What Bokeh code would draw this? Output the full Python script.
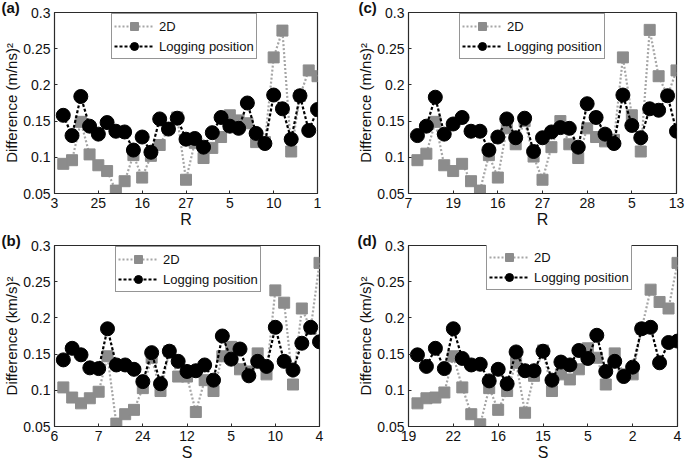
from bokeh.plotting import figure
from bokeh.layouts import row, column
from bokeh.models import FixedTicker, Legend, LegendItem, Range1d, Title
from bokeh.embed import file_html
from bokeh.resources import INLINE

# position index of each receiver/source along the line
idx = list(range(1, 31))

# (a) receivers, velocity difference (m/ns)^2
a_2d = [0.091, 0.096, 0.149, 0.104, 0.089, 0.081, 0.054, 0.067, 0.103, 0.072,
        0.102, 0.117, 0.140, 0.155, 0.069, 0.120, 0.099, 0.113, 0.128, 0.158,
        0.151, 0.147, 0.121, 0.121, 0.238, 0.275, 0.108, 0.185, 0.220, 0.212]
a_log = [0.158, 0.130, 0.184, 0.143, 0.132, 0.148, 0.136, 0.135, 0.110, 0.128,
         0.107, 0.153, 0.139, 0.154, 0.125, 0.126, 0.114, 0.134, 0.155, 0.143,
         0.140, 0.175, 0.133, 0.119, 0.186, 0.167, 0.125, 0.185, 0.137, 0.166]
a_ticks = ["3", "25", "16", "27", "5", "10", "1"]

# (c) receivers, second ordering
c_2d = [0.096, 0.105, 0.149, 0.089, 0.081, 0.091, 0.067, 0.054, 0.103, 0.072,
        0.140, 0.118, 0.150, 0.101, 0.069, 0.114, 0.150, 0.118, 0.099, 0.140,
        0.128, 0.122, 0.124, 0.238, 0.158, 0.108, 0.276, 0.212, 0.185, 0.220]
c_log = [0.130, 0.143, 0.183, 0.132, 0.146, 0.155, 0.136, 0.136, 0.110, 0.128,
         0.153, 0.127, 0.154, 0.108, 0.127, 0.135, 0.141, 0.140, 0.114, 0.174,
         0.155, 0.132, 0.119, 0.186, 0.144, 0.127, 0.167, 0.165, 0.185, 0.136]
c_ticks = ["7", "19", "16", "27", "28", "5", "13"]

# (b) sources, velocity difference (km/s)^2
b_2d = [0.104, 0.090, 0.082, 0.089, 0.098, 0.147, 0.054, 0.067, 0.073, 0.103,
        0.145, 0.099, 0.154, 0.119, 0.119, 0.070, 0.114, 0.099, 0.147, 0.160,
        0.129, 0.126, 0.151, 0.122, 0.238, 0.221, 0.108, 0.213, 0.185, 0.276]
b_log = [0.142, 0.158, 0.149, 0.131, 0.130, 0.185, 0.135, 0.135, 0.129, 0.112,
         0.152, 0.109, 0.154, 0.140, 0.126, 0.127, 0.135, 0.114, 0.175, 0.143,
         0.157, 0.120, 0.140, 0.133, 0.187, 0.140, 0.128, 0.165, 0.187, 0.167]
b_ticks = ["6", "7", "24", "12", "5", "10", "4"]

# (d) sources, second ordering
d_2d = [0.082, 0.089, 0.090, 0.097, 0.147, 0.104, 0.067, 0.053, 0.103, 0.073,
        0.099, 0.138, 0.069, 0.120, 0.155, 0.099, 0.122, 0.115, 0.129, 0.158,
        0.145, 0.108, 0.151, 0.122, 0.122, 0.185, 0.239, 0.222, 0.213, 0.276]
d_log = [0.149, 0.133, 0.158, 0.130, 0.185, 0.144, 0.135, 0.136, 0.113, 0.129,
         0.109, 0.153, 0.127, 0.127, 0.154, 0.114, 0.139, 0.135, 0.155, 0.144,
         0.176, 0.126, 0.140, 0.119, 0.132, 0.185, 0.187, 0.138, 0.166, 0.168]
d_ticks = ["19", "22", "16", "15", "5", "2", "4"]

x_tick_pos = [0, 5, 10, 15, 20, 25, 30]
y_tick_pos = [0.05, 0.1, 0.15, 0.2, 0.25, 0.3]
y_tick_txt = ["0.05", "0.1", "0.15", "0.2", "0.25", "0.3"]

FONT = "Liberation Sans"
AXIS_COLOR = "#2b2b2b"
GRAY = "#8c8c8c"
GRAY_LINE = "#a6a6a6"


def panel(tag, twod, logging, ticks, xlabel, ylabel, w, h, borders, leg_loc, tag_offset):
    left, right, top, bottom = borders
    p = figure(width=w, height=h, output_backend="svg", toolbar_location=None,
               x_range=Range1d(0, 30), y_range=Range1d(0.05, 0.3),
               min_border_left=left, min_border_right=right,
               min_border_top=top, min_border_bottom=bottom,
               background_fill_color="white", border_fill_color="white")
    p.grid.visible = False
    p.outline_line_color = AXIS_COLOR
    p.outline_line_width = 1.2

    for ax in (p.xaxis[0], p.yaxis[0]):
        ax.axis_line_color = AXIS_COLOR
        ax.major_tick_line_color = AXIS_COLOR
        ax.major_tick_in = 3
        ax.major_tick_out = 0
        ax.minor_tick_line_color = None
        ax.major_label_text_font = FONT
        ax.major_label_text_font_size = "14px"
        ax.major_label_text_color = "#111111"
        ax.axis_label_text_font = FONT
        ax.axis_label_text_font_style = "normal"
        ax.axis_label_text_color = "#111111"
        ax.axis_label_standoff = 0

    p.xaxis.ticker = FixedTicker(ticks=x_tick_pos)
    p.xaxis.major_label_overrides = {t: s for t, s in zip(x_tick_pos, ticks)}
    p.xaxis.major_label_standoff = 4
    p.xaxis.axis_label = xlabel
    p.xaxis.axis_label_text_font_size = "16px"

    p.yaxis.ticker = FixedTicker(ticks=y_tick_pos)
    p.yaxis.major_label_overrides = {t: s for t, s in zip(y_tick_pos, y_tick_txt)}
    p.yaxis.major_label_standoff = 4
    p.yaxis.axis_label = ylabel
    p.yaxis.axis_label_text_font_size = "15px"

    l1 = p.line(idx, twod, line_color=GRAY_LINE, line_width=2.2, line_dash="2 2")
    s1 = p.scatter(idx, twod, marker="square", size=11, fill_color=GRAY,
                   line_color=GRAY)
    l2 = p.line(idx, logging, line_color="black", line_width=2.2, line_dash="3 2")
    s2 = p.scatter(idx, logging, marker="circle", size=14, fill_color="black",
                   line_color="black")

    legend = Legend(items=[LegendItem(label="2D", renderers=[l1, s1]),
                           LegendItem(label="Logging position", renderers=[l2, s2])],
                    location=leg_loc)
    legend.label_text_font = FONT
    legend.label_text_font_size = "13px"
    legend.label_text_color = "#111111"
    legend.glyph_width = 40
    legend.glyph_height = 20
    legend.label_height = 19
    legend.label_standoff = 5
    legend.padding = 2
    legend.spacing = 0
    legend.margin = 0
    legend.border_line_color = AXIS_COLOR
    legend.border_line_width = 1
    legend.background_fill_alpha = 1
    p.add_layout(legend)

    # panel letter in the top-left corner
    p.add_layout(Title(text=tag, align="left", offset=tag_offset, standoff=-9,
                       vertical_align="middle", text_font=FONT,
                       text_font_style="bold", text_font_size="15px",
                       text_color="#111111"), "above")
    return p


pa = panel("(a)", a_2d, a_log, a_ticks, "R", "Difference (m/ns)\u00b2", 340, 233,
           (50, 23, 12, 39), (57, 134), -53)
pc = panel("(c)", c_2d, c_log, c_ticks, "R", "Difference (m/ns)\u00b2", 347, 233,
           (68, 11, 12, 40), (51, 134), -50)
pb = panel("(b)", b_2d, b_log, b_ticks, "S", "Difference (km/s)\u00b2", 340, 230,
           (52, 21, 12, 36), (61, 134), -53)
pd_ = panel("(d)", d_2d, d_log, d_ticks, "S", "Difference (km/s)\u00b2", 347, 230,
            (68, 10, 12, 36), (78, 136), -51)

layout = column(row(pa, pc), row(pb, pd_))
open("out.html", "w").write(file_html(layout, INLINE))
